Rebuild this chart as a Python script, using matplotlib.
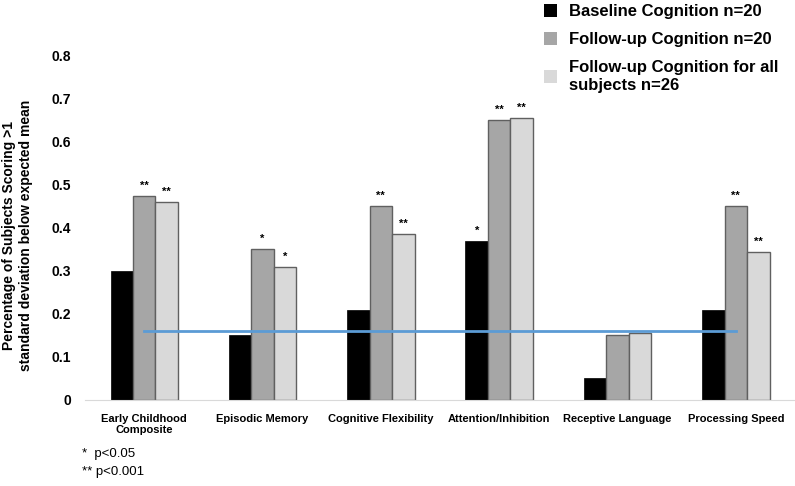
import matplotlib.pyplot as plt
import numpy as np

categories = ['Early Childhood\nComposite', 'Episodic Memory', 'Cognitive Flexibility',
              'Attention/Inhibition', 'Receptive Language', 'Processing Speed']
baseline = [0.30, 0.15, 0.21, 0.37, 0.05, 0.21]
followup = [0.475, 0.35, 0.45, 0.65, 0.15, 0.45]
followup_all = [0.46, 0.31, 0.385, 0.655, 0.155, 0.345]
expected = [0.16] * 6
stars_base = ['', '', '', '*', '', '']
stars_fu = ['**', '*', '**', '**', '', '**']
stars_all = ['**', '*', '**', '**', '', '**']
series_labels = ['Baseline Cognition n=20', 'Follow-up Cognition n=20',
                 'Follow-up Cognition for all\nsubjects n=26']


def main():
    plt.rcParams['font.family'] = ['Liberation Sans', 'DejaVu Sans']
    fig = plt.figure(figsize=(7.95, 4.86), dpi=100)
    ax = fig.add_axes([0.107, 0.177, 0.893, 0.708])

    x = np.arange(len(categories))
    w = 0.19
    b1 = ax.bar(x - w, baseline, w, color='black', edgecolor='black', linewidth=0.5)
    b2 = ax.bar(x, followup, w, color='#a6a6a6', edgecolor='#606060', linewidth=1)
    b3 = ax.bar(x + w, followup_all, w, color='#d9d9d9', edgecolor='#606060', linewidth=1)
    ax.plot(x, expected, color='#5b9bd5', linewidth=2)

    # significance stars
    for bars, vals, st in ((b1, baseline, stars_base), (b2, followup, stars_fu),
                           (b3, followup_all, stars_all)):
        for bar, v, s in zip(bars, vals, st):
            if s:
                ax.text(bar.get_x() + bar.get_width() / 2, v + 0.012, s,
                        ha='center', va='bottom', fontsize=8, fontweight='bold')

    ax.set_xlim(-0.5, 5.5)
    ax.set_ylim(0, 0.8)
    ax.set_yticks(np.arange(0, 0.81, 0.1))
    ax.set_yticklabels(['0'] + ['%.1f' % t for t in np.arange(0.1, 0.81, 0.1)],
                       fontsize=10, fontweight='bold')
    ax.set_xticks(x)
    ax.set_xticklabels(categories, fontsize=8, fontweight='bold')
    ax.tick_params(axis='both', length=0)
    ax.tick_params(axis='x', pad=10)
    ax.tick_params(axis='y', pad=10)
    for s in ('top', 'right', 'left'):
        ax.spines[s].set_visible(False)
    ax.spines['bottom'].set_color('#d9d9d9')

    fig.text(0.022, 0.516, 'Percentage of Subjects Scoring >1\nstandard deviation below expected mean',
             rotation=90, ha='center', va='center', fontsize=10, fontweight='bold',
             linespacing=1.35)

    leg = ax.legend([b1, b2, b3], series_labels, loc='upper left',
                    bbox_to_anchor=(0.665, 1.022), bbox_transform=fig.transFigure,
                    frameon=False, handlelength=0.8, handleheight=0.8,
                    handletextpad=0.7, labelspacing=0.75,
                    prop={'weight': 'bold', 'size': 12})
    for h in leg.legend_handles:
        h.set_edgecolor('none')
    for t in leg.get_texts():
        t.set_linespacing(1.3)

    fig.text(0.103, 0.06, '*  p<0.05', fontsize=9.5)
    fig.text(0.103, 0.023, '** p<0.001', fontsize=9.5)

    plt.savefig('out.png', dpi=100)
    plt.close()


if __name__ == '__main__':
    main()
